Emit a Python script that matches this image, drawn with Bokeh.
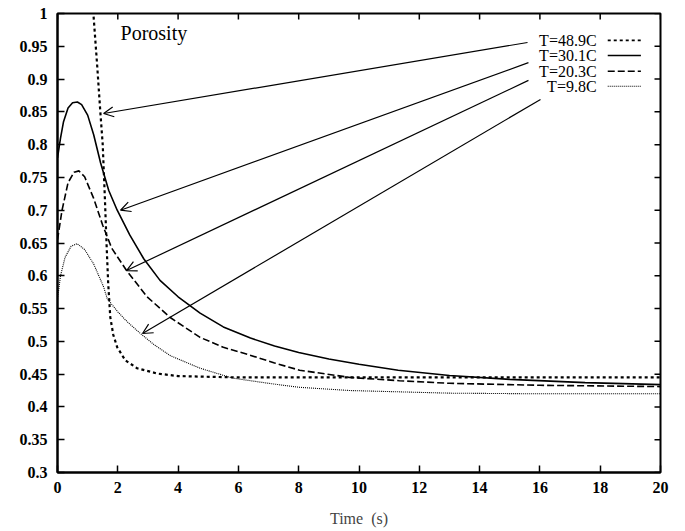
from bokeh.plotting import figure
from bokeh.models import Range1d, FixedTicker, Arrow, OpenHead
from bokeh.core.properties import value
from bokeh.embed import file_html
from bokeh.resources import INLINE

# ---- data ----
t_489 = [1.12, 1.19, 1.32, 1.42, 1.5, 1.57, 1.63, 1.68, 1.75, 1.85, 1.98, 2.25, 2.64, 3.3, 4.0, 6.0, 10.0, 14.0, 20.0]
p_489 = [1.05, 1.0, 0.918, 0.85, 0.80, 0.72, 0.645, 0.59, 0.537, 0.51, 0.491, 0.471, 0.459, 0.451, 0.447, 0.445, 0.445, 0.445, 0.445]

t_301 = [0, 0.1, 0.2, 0.35, 0.5, 0.66, 0.8, 1.0, 1.2, 1.43, 1.7, 1.98, 2.4, 2.86, 3.4, 4.0, 4.73, 5.5, 6.4, 7.2, 8.0, 9.0, 10.0, 11.3, 13.0, 15.0, 17.5, 20.0]
p_301 = [0.78, 0.81, 0.835, 0.856, 0.864, 0.865, 0.861, 0.845, 0.815, 0.772, 0.73, 0.70, 0.662, 0.626, 0.593, 0.568, 0.543, 0.522, 0.505, 0.493, 0.483, 0.473, 0.465, 0.456, 0.448, 0.442, 0.437, 0.434]

t_203 = [0, 0.15, 0.35, 0.55, 0.71, 0.9, 1.2, 1.5, 1.8, 2.29, 2.97, 3.75, 4.73, 5.5, 6.38, 7.2, 8.03, 9.69, 11.34, 13.0, 16.0, 20.0]
p_203 = [0.655, 0.70, 0.742, 0.758, 0.76, 0.751, 0.718, 0.677, 0.642, 0.608, 0.568, 0.536, 0.506, 0.491, 0.479, 0.467, 0.456, 0.445, 0.440, 0.436, 0.433, 0.431]

t_98 = [0, 0.1, 0.25, 0.45, 0.65, 0.9, 1.2, 1.53, 1.65, 2.0, 2.31, 2.75, 3.2, 3.75, 4.73, 5.8, 7.0, 8.0, 9.7, 13.0, 16.0, 20.0]
p_98 = [0.565, 0.6, 0.628, 0.645, 0.649, 0.64, 0.618, 0.583, 0.565, 0.545, 0.53, 0.512, 0.495, 0.478, 0.459, 0.444, 0.436, 0.43, 0.425, 0.421, 0.42, 0.42]

series_labels = ["T=48.9C", "T=30.1C", "T=20.3C", "T=9.8C"]
label_y = [0.959, 0.936, 0.912, 0.889]
arrow_tail_x = [15.59, 15.62, 15.62, 16.02]
arrow_tail_y = [0.9558, 0.925, 0.898, 0.869]
arrow_tip_x = [1.53, 2.09, 2.29, 2.82]
arrow_tip_y = [0.8475, 0.70, 0.608, 0.512]

x_ticks = [0, 2, 4, 6, 8, 10, 12, 14, 16, 18, 20]
y_ticks = [0.3, 0.35, 0.4, 0.45, 0.5, 0.55, 0.6, 0.65, 0.7, 0.75, 0.8, 0.85, 0.9, 0.95, 1.0]
y_tick_labels = ["0.3", "0.35", "0.4", "0.45", "0.5", "0.55", "0.6", "0.65", "0.7", "0.75", "0.8", "0.85", "0.9", "0.95", "1"]

SERIF = "Liberation Serif"
X0, X1, Y0, Y1 = 0, 20, 0.3, 1.0

p = figure(width=685, height=531, output_backend="svg", toolbar_location=None,
           x_range=Range1d(X0, X1), y_range=Range1d(Y0, Y1),
           min_border_left=57, min_border_right=25, min_border_top=13, min_border_bottom=59)
p.grid.visible = False
p.outline_line_color = "black"
p.outline_line_width = 2
p.background_fill_color = "white"
p.border_fill_color = "white"

for ax in (p.xaxis[0], p.yaxis[0]):
    ax.major_tick_in = 7
    ax.major_tick_out = 0
    ax.minor_tick_in = 0
    ax.minor_tick_out = 0
    ax.axis_line_width = 2
    ax.major_tick_line_width = 1.5
    ax.major_label_text_font = SERIF
    ax.major_label_text_font_style = "bold"
    ax.major_label_text_font_size = "16px"
    ax.major_label_text_color = "black"

p.xaxis[0].ticker = FixedTicker(ticks=x_ticks)
p.xaxis[0].major_label_standoff = 9
p.xaxis[0].axis_label = "Time\u00a0\u00a0(s)"
p.xaxis[0].axis_label_text_font = SERIF
p.xaxis[0].axis_label_text_font_style = "normal"
p.xaxis[0].axis_label_text_font_size = "16px"
p.xaxis[0].axis_label_standoff = 14

p.yaxis[0].ticker = FixedTicker(ticks=y_ticks)
p.yaxis[0].major_label_overrides = {t: s for t, s in zip(y_ticks, y_tick_labels)}
p.yaxis[0].major_label_standoff = 10

# inward ticks on the top and right frame edges, placed from the tick lists
tick_dy = (Y1 - Y0) * 6 / 459
tick_dx = (X1 - X0) * 6 / 603
p.segment(x0=x_ticks, y0=[Y1] * len(x_ticks), x1=x_ticks, y1=[Y1 - tick_dy] * len(x_ticks),
          line_color="black", line_width=1.5)
p.segment(x0=[X1] * len(y_ticks), y0=y_ticks, x1=[X1 - tick_dx] * len(y_ticks), y1=y_ticks,
          line_color="black", line_width=1.5)

styles = [
    dict(line_dash="3 3", line_width=2.2),
    dict(line_dash="solid", line_width=1.6),
    dict(line_dash="7 3", line_width=1.6),
    dict(line_dash="1 1", line_width=1.1),
]
curves = [(t_489, p_489), (t_301, p_301), (t_203, p_203), (t_98, p_98)]
for (tx, py), st in zip(curves, styles):
    p.line(tx, py, line_color="black", **st)

# legend-like labels with sample lines
p.text(x=[17.88] * 4, y=label_y, text=series_labels, text_font=value(SERIF),
       text_font_size="16px", text_align="right", text_baseline="middle", text_color="black")
for yy, st in zip(label_y, styles):
    p.line([18.25, 19.35], [yy, yy], line_color="black",
           line_dash=st["line_dash"], line_width=min(st["line_width"], 1.6))

p.text(x=[2.09], y=[0.97], text=["Porosity"], text_font=value(SERIF),
       text_font_size="20px", text_align="left", text_baseline="middle", text_color="black")

for x0, y0, x1, y1 in zip(arrow_tail_x, arrow_tail_y, arrow_tip_x, arrow_tip_y):
    p.add_layout(Arrow(end=OpenHead(size=10, line_width=1.2, line_color="black"),
                       x_start=x0, y_start=y0, x_end=x1, y_end=y1,
                       line_width=1.2, line_color="black"))

open("out.html", "w").write(file_html(p, INLINE))
